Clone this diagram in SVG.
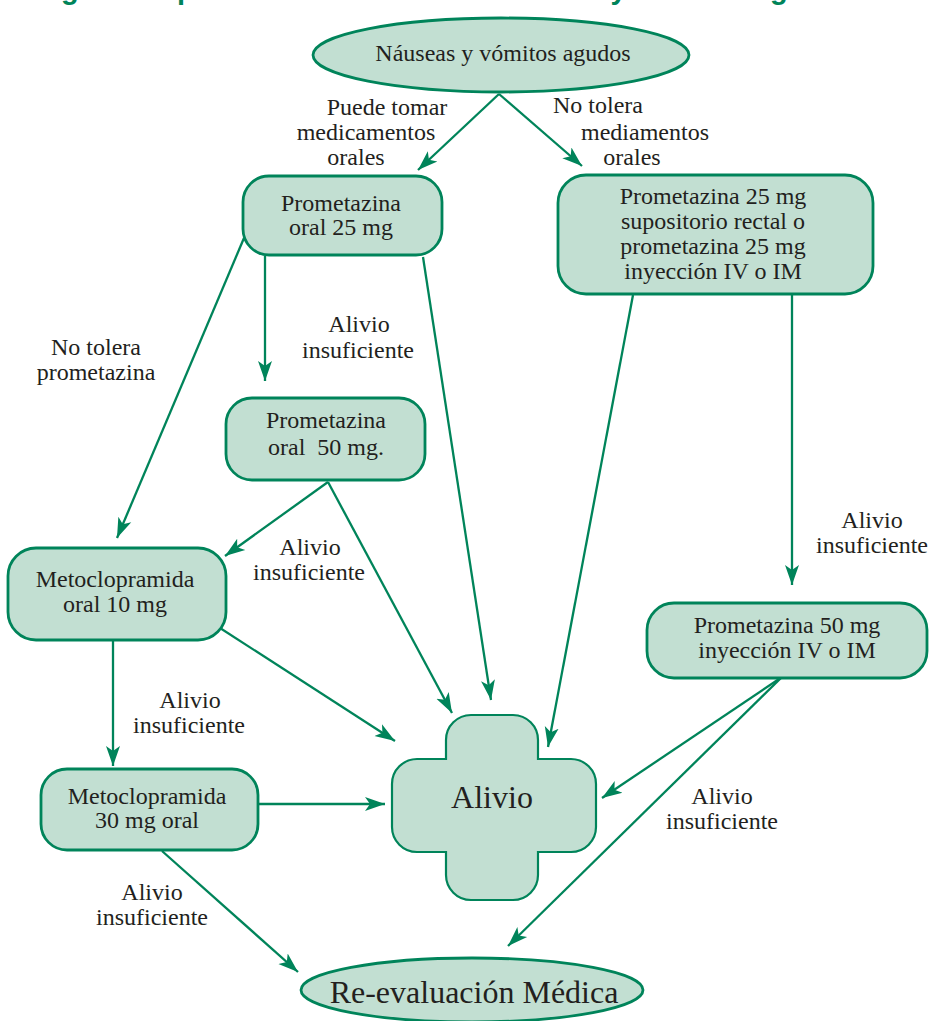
<svg xmlns="http://www.w3.org/2000/svg" width="932" height="1021" viewBox="0 0 932 1021">
  <style>
    .box { fill: #c2dfd2; stroke: #00845a; stroke-width: 2.8; }
    .cross { fill: #c2dfd2; stroke: #00845a; stroke-width: 2.2; }
    .lbl { font-family: "Liberation Serif", "Times New Roman", serif; font-size: 24px; fill: #231f20; text-anchor: middle; }
    .big { font-size: 32px; }
    .edge { fill: none; stroke: #00845a; stroke-width: 2.3; marker-end: url(#arrow); }
    .title { font-family: "Liberation Sans", Arial, sans-serif; font-weight: bold; font-size: 29px; fill: #00845a; }
  </style>
  <defs>
    <marker id="arrow" markerUnits="userSpaceOnUse" markerWidth="22" markerHeight="16" refX="20" refY="8" orient="auto">
      <path d="M0,1 L20,8 L0,15 L5,8 Z" fill="#00845a"/>
    </marker>
  </defs>

  <rect width="932" height="1021" fill="#ffffff"/>

  <!-- heading line, runs past the top edge -->
  <text class="title" x="32" y="-1">Algoritmo para el tratamiento de náuseas y vómitos agudos</text>

  <!-- connectors -->
  <g id="connectors">
    <line class="edge" x1="499" y1="94" x2="418" y2="170"/>
    <line class="edge" x1="499" y1="94" x2="582" y2="166"/>
    <line class="edge" x1="244" y1="238" x2="117" y2="538"/>
    <line class="edge" x1="265" y1="256" x2="265" y2="381"/>
    <line class="edge" x1="423" y1="257" x2="491" y2="700"/>
    <line class="edge" x1="633" y1="295" x2="548" y2="747"/>
    <line class="edge" x1="792" y1="295" x2="792" y2="585"/>
    <line class="edge" x1="328" y1="482" x2="225" y2="556"/>
    <line class="edge" x1="328" y1="482" x2="452" y2="713"/>
    <line class="edge" x1="220" y1="628" x2="395" y2="741"/>
    <line class="edge" x1="113" y1="640" x2="113" y2="766"/>
    <line class="edge" x1="258" y1="804" x2="385" y2="804"/>
    <line class="edge" x1="162" y1="851" x2="298" y2="972"/>
    <line class="edge" x1="782" y1="677" x2="602" y2="798"/>
    <line class="edge" x1="782" y1="677" x2="508" y2="946"/>
  </g>

  <!-- connector labels -->
  <g id="edge-labels">
    <text class="lbl" x="387" y="115">Puede tomar</text>
    <text class="lbl" x="366" y="140">medicamentos</text>
    <text class="lbl" x="356" y="165">orales</text>

    <text class="lbl" x="598" y="113">No tolera</text>
    <text class="lbl" x="645" y="140">mediamentos</text>
    <text class="lbl" x="632" y="165">orales</text>

    <text class="lbl" x="96" y="355">No tolera</text>
    <text class="lbl" x="96" y="380">prometazina</text>

    <text class="lbl" x="359" y="332">Alivio</text>
    <text class="lbl" x="358" y="358">insuficiente</text>

    <text class="lbl" x="310" y="555">Alivio</text>
    <text class="lbl" x="309" y="580">insuficiente</text>

    <text class="lbl" x="190" y="708">Alivio</text>
    <text class="lbl" x="189" y="733">insuficiente</text>

    <text class="lbl" x="872" y="528">Alivio</text>
    <text class="lbl" x="872" y="553">insuficiente</text>

    <text class="lbl" x="722" y="804">Alivio</text>
    <text class="lbl" x="722" y="829">insuficiente</text>

    <text class="lbl" x="152" y="900">Alivio</text>
    <text class="lbl" x="152" y="925">insuficiente</text>
  </g>

  <!-- nodes -->
  <g id="node-nauseas">
    <ellipse class="box" cx="501" cy="55" rx="188" ry="37"/>
    <text class="lbl" x="503" y="61">Náuseas y vómitos agudos</text>
  </g>

  <g id="node-prometazina-oral-25">
    <rect class="box" x="243" y="176" width="199" height="79" rx="26"/>
    <text class="lbl" x="341" y="211">Prometazina</text>
    <text class="lbl" x="341" y="235">oral 25 mg</text>
  </g>

  <g id="node-prometazina-rectal">
    <rect class="box" x="558" y="175" width="315" height="119" rx="28"/>
    <text class="lbl" x="713" y="204">Prometazina 25 mg</text>
    <text class="lbl" x="713" y="229">supositorio rectal o</text>
    <text class="lbl" x="713" y="254">prometazina 25 mg</text>
    <text class="lbl" x="713" y="279">inyección IV o IM</text>
  </g>

  <g id="node-prometazina-oral-50">
    <rect class="box" x="226" y="398" width="199" height="82" rx="26"/>
    <text class="lbl" x="326" y="428">Prometazina</text>
    <text class="lbl" x="326" y="455" xml:space="preserve">oral  50 mg.</text>
  </g>

  <g id="node-metoclopramida-10">
    <rect class="box" x="8" y="548" width="218" height="92" rx="28"/>
    <text class="lbl" x="115" y="587">Metoclopramida</text>
    <text class="lbl" x="115" y="612">oral 10 mg</text>
  </g>

  <g id="node-metoclopramida-30">
    <rect class="box" x="41" y="769" width="217" height="81" rx="26"/>
    <text class="lbl" x="147" y="804">Metoclopramida</text>
    <text class="lbl" x="147" y="828">30 mg oral</text>
  </g>

  <g id="node-prometazina-iny-50">
    <rect class="box" x="647" y="603" width="280" height="75" rx="27"/>
    <text class="lbl" x="787" y="633">Prometazina 50 mg</text>
    <text class="lbl" x="787" y="658">inyección IV o IM</text>
  </g>

  <g id="node-alivio">
    <path class="cross" d="M471,715 H513 A25,25 0 0 1 538,740 V759 H571 A25,25 0 0 1 596,784 V827 A25,25 0 0 1 571,852 H538 V875 A25,25 0 0 1 513,900 H471 A25,25 0 0 1 446,875 V852 H417 A25,25 0 0 1 392,827 V784 A25,25 0 0 1 417,759 H446 V740 A25,25 0 0 1 471,715 Z"/>
    <text class="lbl big" x="492" y="808">Alivio</text>
  </g>

  <g id="node-reevaluacion">
    <ellipse class="box" cx="472" cy="990" rx="171" ry="32"/>
    <text class="lbl big" x="474" y="1003">Re-evaluación Médica</text>
  </g>
</svg>
